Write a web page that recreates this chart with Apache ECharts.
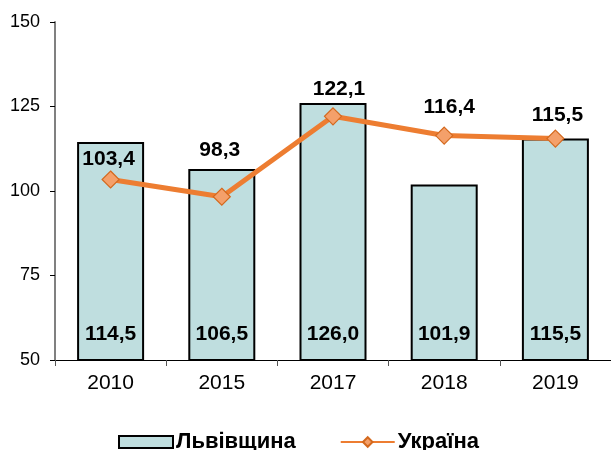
<!DOCTYPE html>
<html>
<head>
<meta charset="utf-8">
<script src="https://cdn.jsdelivr.net/npm/echarts@6/dist/echarts.min.js"></script>
<style>html,body{margin:0;padding:0;background:#fff;}#c{width:611px;height:450px;}</style>
</head>
<body>
<div id="c"></div>
<script>
const categories = ['2010', '2015', '2017', '2018', '2019'];
const lvivValues = [114.5, 106.5, 126.0, 101.9, 115.5];
const ukraineValues = [103.4, 98.3, 122.1, 116.4, 115.5];
const yTicks = [50, 75, 100, 125, 150];
const seriesNames = ['Львівщина', 'Україна'];
// label placement tweaks for the line labels (dx, distance above point)
const lineLabelDx = [-2, -2, 6, 5, 2];
const lineLabelDist = [1, 27, 7, 9, 4];

const fmt = v => v.toFixed(1).replace('.', ',');

const chart = echarts.init(document.getElementById('c'), null, {renderer: 'canvas'});
chart.setOption({
  animation: false,
  backgroundColor: '#ffffff',
  textStyle: {fontFamily: 'Liberation Sans, Arial, sans-serif'},
  grid: {left: 55, top: 22, width: 561, height: 338, containLabel: false},
  legend: {
    top: 426,
    left: 113,
    itemGap: 44,
    itemWidth: 54,
    itemHeight: 12,
    textStyle: {fontSize: 22, fontWeight: 'bold', color: '#000', padding: [0, 0, 0, -2]},
    data: [
      {name: seriesNames[0], icon: 'rect', itemStyle: {color: '#bfdedf', borderColor: '#000', borderWidth: 2}},
      {name: seriesNames[1]}
    ]
  },
  xAxis: {
    type: 'category',
    data: categories,
    axisLine: {lineStyle: {color: '#000', width: 1}},
    axisTick: {show: true, length: 6, lineStyle: {color: '#555'}},
    axisLabel: {fontSize: 21, color: '#000', margin: 13}
  },
  yAxis: {
    type: 'value',
    min: yTicks[0],
    max: yTicks[yTicks.length - 1],
    interval: 25,
    splitLine: {show: false},
    axisLine: {show: true, lineStyle: {color: '#808080', width: 2}},
    axisTick: {show: true, length: 5, lineStyle: {color: '#000'}},
    axisLabel: {fontSize: 18, color: '#000', margin: 15}
  },
  series: [
    {
      name: seriesNames[0],
      type: 'bar',
      data: lvivValues,
      barWidth: 67,
      itemStyle: {color: '#bfdedf', borderColor: '#000', borderWidth: 2},
      label: {
        show: true,
        position: 'insideBottom',
        distance: 16,
        fontSize: 21,
        fontWeight: 'bold',
        color: '#000',
        formatter: p => fmt(p.value)
      },
      z: 2
    },
    {
      name: seriesNames[1],
      type: 'line',
      data: ukraineValues.map((v, i) => ({
        value: v,
        label: {distance: lineLabelDist[i], offset: [lineLabelDx[i], 0]}
      })),
      symbol: 'diamond',
      symbolSize: 17,
      lineStyle: {color: '#ed7d31', width: 5},
      itemStyle: {color: '#f4a06a', borderColor: '#d4691e', borderWidth: 1.2},
      label: {
        show: true,
        position: 'top',
        fontSize: 21,
        fontWeight: 'bold',
        color: '#000',
        formatter: p => fmt(p.value)
      },
      z: 3
    }
  ]
});
</script>
</body>
</html>
